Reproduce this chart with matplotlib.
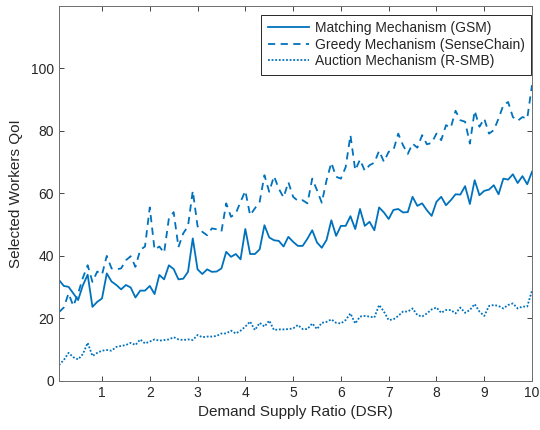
import numpy as np
import matplotlib
matplotlib.use("Agg")
import matplotlib.pyplot as plt

plt.rcParams['font.family'] = ['Liberation Sans', 'DejaVu Sans']

dsr = np.round(np.arange(1, 101) * 0.1, 1)

gsm = [32.3, 30.4, 30.1, 28.0, 25.9, 30.6, 34.0, 23.7, 25.3, 26.4,
       34.4, 31.8, 30.7, 29.3, 30.7, 29.9, 26.7, 28.9, 28.9, 30.4,
       27.8, 33.9, 32.5, 37.0, 35.8, 32.5, 32.7, 34.9, 45.6, 35.7,
       34.2, 35.7, 34.9, 35.0, 36.0, 41.3, 39.7, 40.6, 38.9, 48.6,
       40.6, 40.6, 42.1, 49.8, 45.9, 45.0, 44.8, 43.0, 46.1, 44.5,
       43.2, 43.2, 45.5, 48.2, 44.3, 42.6, 45.1, 51.4, 46.4, 49.6,
       49.6, 52.7, 48.6, 55.0, 49.6, 50.9, 48.2, 55.5, 53.9, 51.8,
       54.7, 55.0, 53.9, 54.0, 58.9, 56.0, 56.8, 54.6, 52.8, 57.3,
       58.9, 56.2, 57.8, 59.7, 59.6, 62.3, 56.6, 64.2, 59.4, 60.8,
       61.2, 62.6, 59.7, 64.7, 64.4, 66.1, 63.3, 65.5, 62.9, 66.9]

sensechain = [22.0, 23.5, 28.0, 24.0, 28.0, 33.0, 37.0, 31.7, 35.0, 34.0,
              40.0, 36.0, 35.7, 36.0, 38.6, 39.9, 36.5, 41.9, 43.0, 55.5,
              42.0, 43.0, 41.0, 52.0, 54.0, 42.8, 47.2, 49.5, 60.8, 49.5,
              47.7, 46.6, 48.8, 48.5, 47.8, 56.8, 52.5, 53.6, 57.3, 60.8,
              53.0, 55.2, 57.3, 65.8, 60.5, 65.5, 61.5, 58.7, 63.6, 58.9,
              57.6, 57.8, 56.8, 64.7, 61.0, 57.0, 64.2, 69.8, 65.3, 64.7,
              68.4, 78.6, 67.4, 70.8, 67.2, 69.0, 69.8, 73.6, 70.1, 73.3,
              73.8, 79.1, 75.4, 72.6, 75.9, 74.6, 78.6, 75.7, 76.1, 79.1,
              77.0, 81.8, 81.0, 86.4, 83.4, 82.9, 75.9, 86.4, 81.3, 83.9,
              79.1, 80.2, 83.9, 88.2, 89.2, 84.4, 83.2, 84.4, 83.9, 94.6]

rsmb = [5.1, 6.7, 9.0, 7.6, 6.9, 8.6, 12.2, 8.0, 9.0, 9.7,
        9.9, 9.7, 10.9, 11.2, 11.5, 12.2, 11.5, 13.3, 12.0, 12.6,
        13.3, 12.9, 13.1, 13.3, 14.0, 13.3, 13.1, 13.3, 13.1, 14.7,
        14.0, 14.2, 14.2, 14.4, 15.2, 15.2, 16.1, 15.2, 16.1, 17.4,
        19.0, 16.3, 18.6, 17.4, 19.3, 16.3, 16.5, 16.5, 16.6, 16.8,
        17.9, 16.6, 16.6, 18.4, 16.6, 18.6, 18.9, 19.7, 18.6, 18.4,
        19.5, 21.6, 18.4, 20.6, 20.8, 20.6, 20.3, 24.3, 22.2, 19.5,
        19.7, 20.8, 22.2, 22.2, 23.2, 21.1, 20.6, 21.6, 22.9, 23.5,
        21.8, 22.7, 22.7, 21.6, 23.5, 21.8, 22.7, 24.6, 22.2, 20.8,
        24.0, 24.3, 24.0, 23.2, 24.3, 24.8, 23.2, 23.8, 23.8, 28.9]

labels = ['Matching Mechanism (GSM)', 'Greedy Mechanism (SenseChain)',
          'Auction Mechanism (R-SMB)']
xticks = list(range(1, 11))
yticks = [0, 20, 40, 60, 80, 100]

color = '#0072BD'
axcol = '#262626'

fig = plt.figure(figsize=(5.4, 4.3), dpi=100)
L, R, T, B = 59, 532, 5.7, 381
ax = fig.add_axes([L/540, 1 - B/430, (R - L)/540, (B - T)/430])

ax.plot(dsr, gsm, '-', color=color, lw=1.3, label=labels[0])
ax.plot(dsr, sensechain, '--', color=color, lw=1.3, dashes=(4, 3), label=labels[1])
ax.plot(dsr, rsmb, ':', color=color, lw=1.3, dashes=(1, 1), label=labels[2])

ax.set_xlim(0.1, 10)
ax.set_ylim(0, 120)
ax.set_xticks(xticks)
ax.set_yticks(yticks)
ax.tick_params(direction='in', top=True, right=True, length=3.5, width=0.6,
               colors=axcol, labelsize=10, labelcolor=axcol)
for s in ax.spines.values():
    s.set_color('#6e6e6e')
    s.set_linewidth(0.7)

ax.set_xlabel('Demand Supply Ratio (DSR)', fontsize=11, color=axcol, labelpad=4)
ax.set_ylabel('Selected Workers QoI', fontsize=11, color=axcol, labelpad=6)

leg = ax.legend(loc='upper right', bbox_to_anchor=((531 - L)/(R - L), (B - 15)/(B - T)),
                fontsize=10, frameon=True, fancybox=False,
                edgecolor=axcol, framealpha=1, borderpad=0.45, labelspacing=0.18,
                handlelength=3.0, handletextpad=0.4, borderaxespad=0)
leg.get_frame().set_linewidth(0.7)
for t in leg.get_texts():
    t.set_color(axcol)

fig.savefig('out.png', dpi=100)
